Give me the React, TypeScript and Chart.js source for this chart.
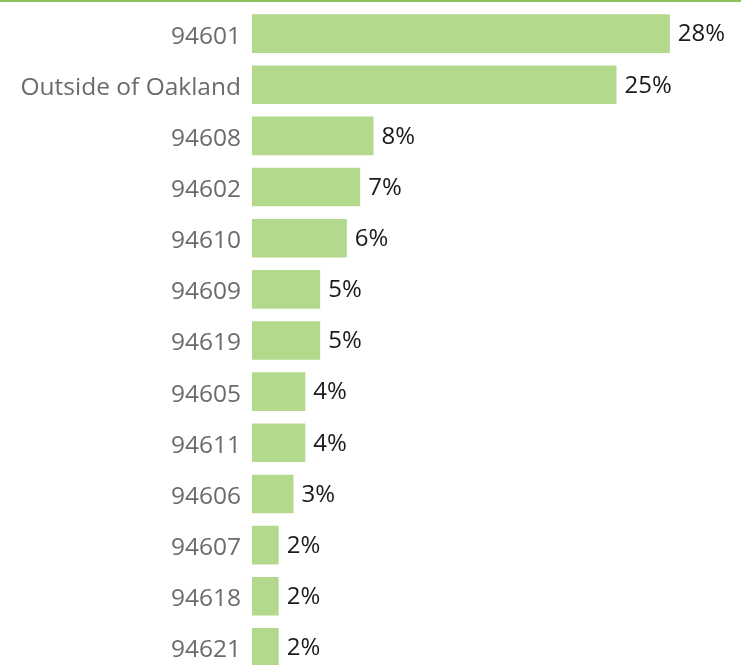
import React, { useEffect, useRef } from "react";
import { Chart, registerables } from "chart.js";

Chart.register(...registerables);

const categories = [
  "94601",
  "Outside of Oakland",
  "94608",
  "94602",
  "94610",
  "94609",
  "94619",
  "94605",
  "94611",
  "94606",
  "94607",
  "94618",
  "94621",
];

const shares = [28.2, 24.6, 8.2, 7.3, 6.4, 4.6, 4.6, 3.6, 3.6, 2.8, 1.8, 1.8, 1.8];

const xMax = 33;

const BAR_COLOR = "#b3d98d";
const TOP_LINE = "#8cc45a";
const FONT = "'Open Sans', sans-serif";

const topLinePlugin = {
  id: "topLine",
  beforeDraw(chart: any) {
    const ctx = chart.ctx;
    ctx.save();
    ctx.fillStyle = TOP_LINE;
    ctx.fillRect(0, 0, chart.width, 2);
    ctx.restore();
  },
};

const valueLabelPlugin = {
  id: "valueLabels",
  afterDatasetsDraw(chart: any) {
    const ctx = chart.ctx;
    const meta = chart.getDatasetMeta(0);
    ctx.save();
    ctx.font = `24px ${FONT}`;
    ctx.fillStyle = "#1a1a1a";
    ctx.textAlign = "left";
    ctx.textBaseline = "middle";
    meta.data.forEach((bar: any, i: number) => {
      const v = chart.data.datasets[0].data[i] as number;
      ctx.fillText(`${Math.round(v)}%`, bar.x + 8, bar.y + 1);
    });
    ctx.restore();
  },
};

export default function App() {
  const ref = useRef<HTMLCanvasElement>(null);

  useEffect(() => {
    if (!ref.current) return;
    const chart = new Chart(ref.current, {
      type: "bar",
      data: {
        labels: categories,
        datasets: [
          {
            data: shares,
            backgroundColor: BAR_COLOR,
            barPercentage: 0.755,
            categoryPercentage: 1,
          },
        ],
      },
      options: {
        indexAxis: "y",
        responsive: false,
        animation: false,
        devicePixelRatio: 1,
        layout: { padding: { top: 8, bottom: 0, left: 0, right: 0 } },
        plugins: {
          legend: { display: false },
          tooltip: { enabled: false },
        },
        scales: {
          x: {
            display: false,
            min: 0,
            max: xMax,
          },
          y: {
            grid: { display: false, drawTicks: false },
            border: { display: false },
            ticks: {
              padding: 11,
              labelOffset: 3,
              color: "#6b6b6b",
              font: { family: FONT, size: 24.5 },
            },
            afterFit(scale: any) {
              scale.width = 252;
              scale.paddingTop = 0;
              scale.paddingBottom = 0;
            },
          },
        },
      },
      plugins: [topLinePlugin, valueLabelPlugin],
    });
    return () => chart.destroy();
  }, []);

  return (
    <div
      style={{
        position: "fixed",
        left: 0,
        top: 0,
        width: 741,
        height: 665,
        overflow: "hidden",
        background: "#fff",
      }}
    >
      <canvas ref={ref} width={741} height={673} style={{ display: "block" }} />
    </div>
  );
}
